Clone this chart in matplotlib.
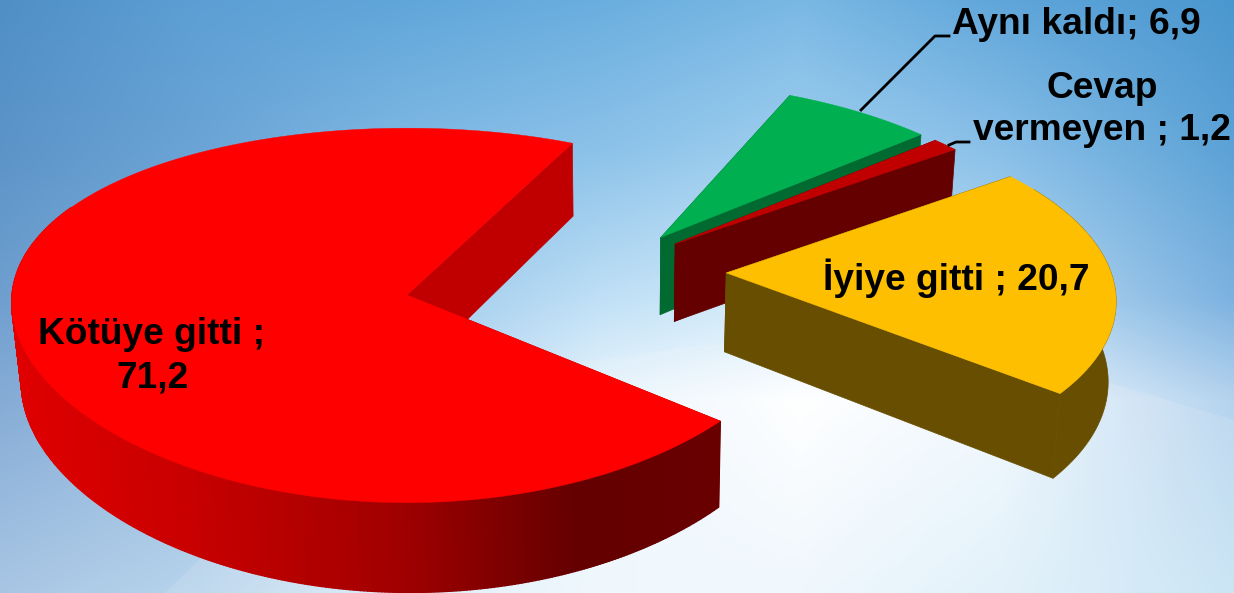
import numpy as np
import matplotlib
matplotlib.use('AGG')
import matplotlib.pyplot as plt
from matplotlib.colors import LinearSegmentedColormap, to_rgb

plt.rcParams['font.family'] = ['Liberation Sans', 'DejaVu Sans']

# values in pie order, counter clockwise
categories = ['Kötüye gitti', 'İyiye gitti', 'Cevap vermeyen', 'Aynı kaldı']
values = [71.2, 20.7, 1.2, 6.9]

# styling per slice
top_colors = ['#ff0000', '#fdbf00', '#c00000', '#00b050']
wall_colors = ['#c00000', '#674e00', '#640000', '#006a30']
explode = [(0.0, 0.0), (0.817, 0.121), (0.70, 0.285), (0.665, 0.322)]
persp_x = [0.04, 0.09, 0.109, 0.109]
radius = [1.0, 0.985, 1.0, 1.0]
draw_order = [0, 3, 2, 1]

START_ANGLE = 64.3
X0, Y0 = 407, 295     # where the pie centre lands in pixels
RX, RY = 395, 185
PERSP = 0.109
DEPTH = 80
VANISH_X, SHRINK = 620, 0.984

# background colours
bg_x = [0, 200, 400, 600, 800, 1000, 1234]
bg_y = [0, 150, 300, 400, 593]
bg_colors = [
    ['#4f8fc6', '#5d9fd4', '#60a6d9', '#6aaedf', '#7ab8e4', '#60a6da', '#4a97cf'],
    ['#5c94c8', '#6ba4d6', '#7fb8e4', '#8cc2e9', '#9fcfef', '#8ac0e8', '#5ca2d6'],
    ['#6f9fcf', '#82b2dd', '#9cc9ec', '#c0e0f6', '#d5ecfa', '#bcdcf3', '#7db2e0'],
    ['#86acd6', '#98bde0', '#b6d6f0', '#eaf5fd', '#ffffff', '#f0f8fe', '#b5d3ee'],
    ['#a8c6e4', '#b8d4ec', '#dcedf9', '#eef7fd', '#eef7fd', '#dff0fa', '#c5e2f4'],
]


def project(u, v, px, bottom=False):
    """Ground plane (unit pie radius) to pixels, with a little perspective."""
    f = 1 / (1 + PERSP * v)
    x = X0 + RX * u / (1 + px * v)
    y = Y0 - RY * v * f
    if bottom:
        x = VANISH_X + (x - VANISH_X) * SHRINK
        y = y + DEPTH * f
    return x, y


def background(ax):
    xx = np.linspace(0, 1234, 618)
    yy = np.linspace(0, 593, 297)
    rgb = np.array([[to_rgb(c) for c in row] for row in bg_colors])
    img = np.zeros((len(yy), len(xx), 3))
    for k in range(3):
        by_x = np.array([np.interp(xx, bg_x, rgb[j, :, k]) for j in range(len(bg_y))])
        for i in range(len(xx)):
            img[:, i, k] = np.interp(yy, bg_y, by_x[:, i])
    ax.imshow(img, extent=(0, 1234, 593, 0), aspect='auto', zorder=0)
    # the pale swoosh low in the picture
    ax.fill([165, 240, 580, 700, 850, 1050, 1234, 1234],
            [593, 520, 362, 345, 345, 365, 420, 593],
            color='white', alpha=0.12, lw=0, zorder=1)


def red_wall_color(x):
    # outer wall of the big slice darkens to the right
    stops = [0, 0.25, 0.55, 0.8, 1]
    cols = ['#e00000', '#c80000', '#a00000', '#640000', '#680000']
    cmap = LinearSegmentedColormap.from_list('wall', list(zip(stops, cols)))
    return cmap(np.clip((x - 10) / 708, 0, 1))


def draw_slice(ax, i, a0, a1, z):
    du, dv = explode[i]
    px = persp_x[i]
    t = np.radians(np.linspace(a0, a1, max(int(a1 - a0) * 2, 8)))
    u = du + radius[i] * np.cos(t)
    v = dv + radius[i] * np.sin(t)
    xt, yt = project(u, v, px)
    xb, yb = project(u, v, px, bottom=True)
    ax_t, ay_t = project(du, dv, px)
    ax_b, ay_b = project(du, dv, px, bottom=True)

    # flat walls from the centre to both ends of the arc
    for k in (0, -1):
        ax.fill([ax_t, xt[k], xb[k], ax_b], [ay_t, yt[k], yb[k], ay_b],
                color=wall_colors[i], lw=0.5, zorder=z)
    # round wall, only the part turned to the viewer
    front = np.sin(t) < 0.5
    if i == 0:
        for k in np.nonzero(front[:-1] & front[1:])[0]:
            ax.fill([xt[k], xt[k + 1], xb[k + 1], xb[k]],
                    [yt[k], yt[k + 1], yb[k + 1], yb[k]],
                    color=red_wall_color(xt[k]), lw=1, zorder=z + 0.1)
    elif front.any():
        ax.fill(np.r_[xt[front], xb[front][::-1]], np.r_[yt[front], yb[front][::-1]],
                color=wall_colors[i], lw=0.5, zorder=z + 0.1)
    ax.fill(np.r_[ax_t, xt], np.r_[ay_t, yt], color=top_colors[i], lw=0.3, zorder=z + 0.2)


fig = plt.figure(figsize=(12.34, 5.93), dpi=100)
ax = fig.add_axes([0, 0, 1, 1])
background(ax)

sweeps = 360 * np.array(values) / sum(values)
starts = START_ANGLE + np.r_[0, np.cumsum(sweeps)[:-1]]
for n, i in enumerate(draw_order):
    draw_slice(ax, i, starts[i], starts[i] + sweeps[i], 2 + n)

# leader lines
ax.plot([861, 935, 949], [110, 36, 36], color='black', lw=2, zorder=8)
ax.plot([949, 956, 969], [145, 142, 142], color='black', lw=2, zorder=8)


def num(v):
    return str(v).replace('.', ',')


font = dict(fontsize=26.7, fontweight='bold', color='black', ha='center', va='center', zorder=9)
ax.text(152, 335, f'{categories[0]} ;', **font)
ax.text(152, 378, num(values[0]), **font)
ax.text(956, 278, f'{categories[1]} ; {num(values[1])}', **font)
first, second = categories[2].split(' ')
ax.text(1102, 88, first, **font)
ax.text(1102, 130, f'{second} ; {num(values[2])}', **font)
ax.text(1076, 24, f'{categories[3]}; {num(values[3])}', **font)

ax.set_xlim(0, 1234)
ax.set_ylim(593, 0)
ax.axis('off')
fig.savefig('out.png', dpi=100)
